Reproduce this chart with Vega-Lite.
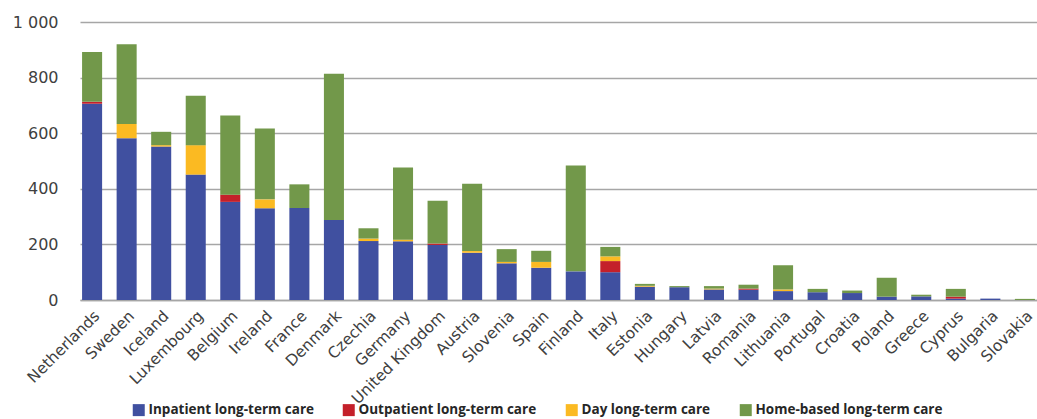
{
  "$schema": "https://vega.github.io/schema/vega-lite/v6.json",
  "autosize": {"type": "none"},
  "width": 957,
  "height": 278,
  "padding": {"left": 80, "top": 22, "right": 0, "bottom": 119},
  "background": "white",
  "data": {
    "values": [
      {"country": "Netherlands", "Inpatient long-term care": 706, "Outpatient long-term care": 7, "Day long-term care": 0, "Home-based long-term care": 179},
      {"country": "Sweden", "Inpatient long-term care": 582, "Outpatient long-term care": 0, "Day long-term care": 51, "Home-based long-term care": 287},
      {"country": "Iceland", "Inpatient long-term care": 552, "Outpatient long-term care": 0, "Day long-term care": 5, "Home-based long-term care": 48},
      {"country": "Luxembourg", "Inpatient long-term care": 451, "Outpatient long-term care": 0, "Day long-term care": 106, "Home-based long-term care": 178},
      {"country": "Belgium", "Inpatient long-term care": 353, "Outpatient long-term care": 26, "Day long-term care": 0, "Home-based long-term care": 285},
      {"country": "Ireland", "Inpatient long-term care": 330, "Outpatient long-term care": 0, "Day long-term care": 32, "Home-based long-term care": 255},
      {"country": "France", "Inpatient long-term care": 331, "Outpatient long-term care": 0, "Day long-term care": 0, "Home-based long-term care": 85},
      {"country": "Denmark", "Inpatient long-term care": 288, "Outpatient long-term care": 0, "Day long-term care": 0, "Home-based long-term care": 526},
      {"country": "Czechia", "Inpatient long-term care": 212, "Outpatient long-term care": 0, "Day long-term care": 9, "Home-based long-term care": 37},
      {"country": "Germany", "Inpatient long-term care": 211, "Outpatient long-term care": 0, "Day long-term care": 6, "Home-based long-term care": 260},
      {"country": "United Kingdom", "Inpatient long-term care": 198, "Outpatient long-term care": 5, "Day long-term care": 0, "Home-based long-term care": 154},
      {"country": "Austria", "Inpatient long-term care": 170, "Outpatient long-term care": 0, "Day long-term care": 6, "Home-based long-term care": 242},
      {"country": "Slovenia", "Inpatient long-term care": 132, "Outpatient long-term care": 0, "Day long-term care": 5, "Home-based long-term care": 46},
      {"country": "Spain", "Inpatient long-term care": 116, "Outpatient long-term care": 0, "Day long-term care": 21, "Home-based long-term care": 40},
      {"country": "Finland", "Inpatient long-term care": 103, "Outpatient long-term care": 0, "Day long-term care": 0, "Home-based long-term care": 381},
      {"country": "Italy", "Inpatient long-term care": 100, "Outpatient long-term care": 40, "Day long-term care": 17, "Home-based long-term care": 34},
      {"country": "Estonia", "Inpatient long-term care": 48, "Outpatient long-term care": 0, "Day long-term care": 3, "Home-based long-term care": 7},
      {"country": "Hungary", "Inpatient long-term care": 46, "Outpatient long-term care": 0, "Day long-term care": 0, "Home-based long-term care": 4},
      {"country": "Latvia", "Inpatient long-term care": 38, "Outpatient long-term care": 0, "Day long-term care": 3, "Home-based long-term care": 9},
      {"country": "Romania", "Inpatient long-term care": 37, "Outpatient long-term care": 4, "Day long-term care": 0, "Home-based long-term care": 14},
      {"country": "Lithuania", "Inpatient long-term care": 32, "Outpatient long-term care": 0, "Day long-term care": 6, "Home-based long-term care": 87},
      {"country": "Portugal", "Inpatient long-term care": 28, "Outpatient long-term care": 0, "Day long-term care": 0, "Home-based long-term care": 12},
      {"country": "Croatia", "Inpatient long-term care": 25, "Outpatient long-term care": 0, "Day long-term care": 0, "Home-based long-term care": 9},
      {"country": "Poland", "Inpatient long-term care": 12, "Outpatient long-term care": 0, "Day long-term care": 0, "Home-based long-term care": 68},
      {"country": "Greece", "Inpatient long-term care": 13, "Outpatient long-term care": 0, "Day long-term care": 0, "Home-based long-term care": 6},
      {"country": "Cyprus", "Inpatient long-term care": 5, "Outpatient long-term care": 7, "Day long-term care": 0, "Home-based long-term care": 28},
      {"country": "Bulgaria", "Inpatient long-term care": 5, "Outpatient long-term care": 0, "Day long-term care": 0, "Home-based long-term care": 0},
      {"country": "Slovakia", "Inpatient long-term care": 0, "Outpatient long-term care": 0, "Day long-term care": 0, "Home-based long-term care": 4}
    ]
  },
  "transform": [
    {"fold": ["Inpatient long-term care", "Outpatient long-term care", "Day long-term care", "Home-based long-term care"], "as": ["type", "value"]},
    {"calculate": "indexof(['Inpatient long-term care', 'Outpatient long-term care', 'Day long-term care', 'Home-based long-term care'], datum.type)", "as": "stackOrder"}
  ],
  "mark": {"type": "bar"},
  "encoding": {
    "x": {
      "field": "country", "type": "nominal", "sort": null, "title": null,
      "scale": {"paddingInner": 0.42, "paddingOuter": 0.06},
      "axis": {
        "labelAngle": -45, "labelFont": "DejaVu Sans", "labelFontSize": 15.5, "labelColor": "#404040",
        "ticks": false, "domainColor": "#a6a6a6", "domainWidth": 1.5, "labelPadding": 8
      }
    },
    "y": {
      "field": "value", "type": "quantitative", "stack": "zero", "title": null,
      "scale": {"domain": [0, 1000], "nice": false},
      "axis": {
        "values": [0, 200, 400, 600, 800, 1000],
        "labelExpr": "replace(format(datum.value, ','), ',', ' ')",
        "labelFont": "DejaVu Sans", "labelFontSize": 16, "labelColor": "#404040",
        "ticks": false, "domain": false, "labelPadding": 22,
        "gridColor": "#a6a6a6", "gridWidth": 1.5
      }
    },
    "order": {"field": "stackOrder", "type": "quantitative", "sort": "ascending"},
    "color": {
      "field": "type", "type": "nominal", "title": null,
      "sort": ["Inpatient long-term care", "Outpatient long-term care", "Day long-term care", "Home-based long-term care"],
      "scale": {
        "domain": ["Inpatient long-term care", "Outpatient long-term care", "Day long-term care", "Home-based long-term care"],
        "range": ["#4050a0", "#c4202a", "#fbba22", "#72984a"]
      },
      "legend": {
        "orient": "none", "direction": "horizontal", "legendX": 52, "legendY": 381,
        "symbolType": "square", "symbolSize": 144, "symbolStrokeWidth": 0,
        "labelFont": "Open Sans", "labelFontSize": 13.5, "labelFontWeight": "bold", "labelColor": "#262626",
        "labelOffset": 3, "columnPadding": 28, "labelLimit": 0
      }
    }
  },
  "config": {"view": {"stroke": null}}
}
